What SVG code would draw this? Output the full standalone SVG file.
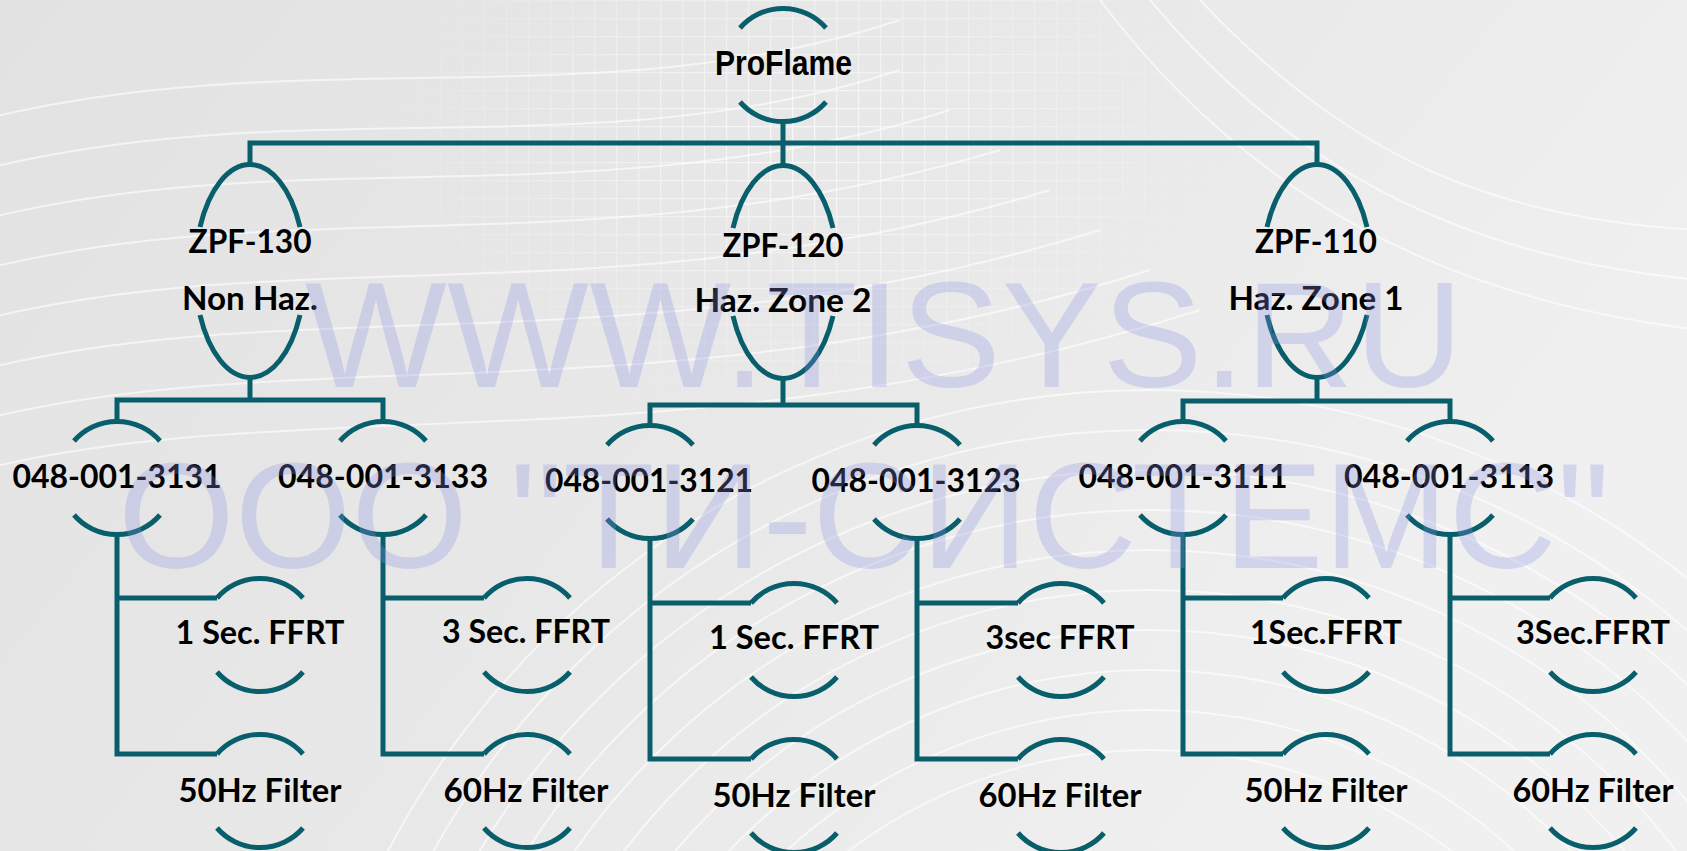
<svg xmlns="http://www.w3.org/2000/svg" width="1687" height="851" viewBox="0 0 1687 851">
<defs>
<style>
.n{fill:none;stroke:#085f6b;stroke-width:5}
.c{fill:none;stroke:#085f6b;stroke-width:5;stroke-linejoin:miter;stroke-linecap:butt}
.t{font-family:Lato,'Open Sans','Liberation Sans',sans-serif;font-weight:700;font-size:32px;fill:#000;text-anchor:middle}
.pf{font-family:'Liberation Sans',Arial,sans-serif;font-weight:700;font-size:35px;fill:#000;text-anchor:middle}
.wm{font-family:'Liberation Sans',Arial,sans-serif;font-size:150px;fill:rgb(135,145,228);fill-opacity:0.28}
.w{fill:none;stroke:#fff;stroke-opacity:0.6;stroke-width:2}
</style>
<linearGradient id="bgg" x1="0" y1="0" x2="1" y2="0.4">
<stop offset="0" stop-color="#e2e2e2"/>
<stop offset="0.6" stop-color="#e9e9e9"/>
<stop offset="1" stop-color="#f0f0f0"/>
</linearGradient>
<pattern id="grid" width="22" height="18" patternUnits="userSpaceOnUse">
<path d="M0 0H22M0 0V18" fill="none" stroke="#fff" stroke-width="2.5" stroke-opacity="0.7"/>
</pattern>
<radialGradient id="fade" cx="0.5" cy="0.4" r="0.5">
<stop offset="0" stop-color="#fff" stop-opacity="1"/>
<stop offset="1" stop-color="#fff" stop-opacity="0"/>
</radialGradient>
<mask id="m1"><rect x="350" y="-100" width="900" height="600" fill="url(#fade)"/></mask>
</defs>

<g id="background">
<rect width="1687" height="851" fill="url(#bgg)"/>
<rect x="350" y="-100" width="900" height="600" fill="url(#grid)" mask="url(#m1)"/>
<g class="w">
<path d="M-20 120 C300 40 600 120 900 20"/>
<path d="M-20 170 C300 90 600 170 900 70"/>
<path d="M-20 220 C300 140 600 220 950 110"/>
<path d="M-20 270 C300 190 600 270 1000 150"/>
<path d="M-20 320 C300 240 620 320 1050 190"/>
<path d="M-20 370 C300 290 650 370 1100 230"/>
<path d="M-20 420 C300 340 680 420 1150 270"/>
<path d="M-20 470 C300 390 700 470 1200 310"/>
<path d="M1100 0 C1250 200 1450 300 1700 330"/>
<path d="M1150 0 C1300 180 1480 260 1700 280"/>
<path d="M1200 0 C1350 160 1500 220 1700 230"/>
<circle cx="1150" cy="1250" r="500"/>
<circle cx="1150" cy="1250" r="540"/>
<circle cx="1150" cy="1250" r="580"/>
<circle cx="1150" cy="1250" r="620"/>
<circle cx="1150" cy="1250" r="660"/>
<circle cx="1150" cy="1250" r="700"/>
<circle cx="1150" cy="1250" r="740"/>
<circle cx="1150" cy="1250" r="780"/>
<circle cx="1150" cy="1250" r="820"/>
<circle cx="1150" cy="1250" r="860"/>
</g>
</g>

<g id="connectors" class="c">
<path d="M783 122V165"/>
<path d="M250 165V143H1317V165"/>
<path d="M250 378V400"/>
<path d="M117 421V400H383V421"/>
<path d="M783 379V405"/>
<path d="M650 425V405H917V425"/>
<path d="M1317 378V401"/>
<path d="M1183 421V401H1450V421"/>
<path d="M117 535V754H217M117 598H217"/>
<path d="M383 535V754H484M383 598H484"/>
<path d="M650 539V759H751M650 603H751"/>
<path d="M917 539V759H1018M917 603H1018"/>
<path d="M1183 535V754H1283M1183 598H1283"/>
<path d="M1450 535V754H1550M1450 598H1550"/>
</g>

<g id="node-proflame">
<path class="n" d="M740 28A57 57 0 0 1 826 28M740 102A57 57 0 0 0 826 102"/>
<text class="pf" x="783.5" y="75" textLength="137" lengthAdjust="spacingAndGlyphs">ProFlame</text>
</g>

<g id="node-zpf130">
<path class="n" d="M200 227A55 107 0 0 1 300 227M200 315A55 107 0 0 0 300 315"/>
<text class="t" x="250" y="253" textLength="123" lengthAdjust="spacingAndGlyphs">ZPF-130</text>
<text class="t" x="250" y="310" textLength="136" lengthAdjust="spacingAndGlyphs">Non Haz.</text>
</g>
<g id="node-zpf120">
<path class="n" d="M733 228A55 107 0 0 1 833 228M733 316A55 107 0 0 0 833 316"/>
<text class="t" x="783" y="257" textLength="121" lengthAdjust="spacingAndGlyphs">ZPF-120</text>
<text class="t" x="783" y="312" textLength="177" lengthAdjust="spacingAndGlyphs">Haz. Zone 2</text>
</g>
<g id="node-zpf110">
<path class="n" d="M1267 227A55 107 0 0 1 1367 227M1267 315A55 107 0 0 0 1367 315"/>
<text class="t" x="1316" y="253" textLength="122" lengthAdjust="spacingAndGlyphs">ZPF-110</text>
<text class="t" x="1316" y="310" textLength="175" lengthAdjust="spacingAndGlyphs">Haz. Zone 1</text>
</g>

<g id="node-3131">
<path class="n" d="M74 441A57 57 0 0 1 160 441M74 515A57 57 0 0 0 160 515"/>
<text class="t" x="117" y="488" textLength="209" lengthAdjust="spacingAndGlyphs">048-001-3131</text>
</g>
<g id="node-3133">
<path class="n" d="M340 441A57 57 0 0 1 426 441M340 515A57 57 0 0 0 426 515"/>
<text class="t" x="383" y="488" textLength="210" lengthAdjust="spacingAndGlyphs">048-001-3133</text>
</g>
<g id="node-3121">
<path class="n" d="M607 445A57 57 0 0 1 693 445M607 519A57 57 0 0 0 693 519"/>
<text class="t" x="649" y="492" textLength="208" lengthAdjust="spacingAndGlyphs">048-001-3121</text>
</g>
<g id="node-3123">
<path class="n" d="M874 445A57 57 0 0 1 960 445M874 519A57 57 0 0 0 960 519"/>
<text class="t" x="916" y="492" textLength="209" lengthAdjust="spacingAndGlyphs">048-001-3123</text>
</g>
<g id="node-3111">
<path class="n" d="M1140 441A57 57 0 0 1 1226 441M1140 515A57 57 0 0 0 1226 515"/>
<text class="t" x="1183" y="488" textLength="209" lengthAdjust="spacingAndGlyphs">048-001-3111</text>
</g>
<g id="node-3113">
<path class="n" d="M1407 441A57 57 0 0 1 1493 441M1407 515A57 57 0 0 0 1493 515"/>
<text class="t" x="1449" y="488" textLength="210" lengthAdjust="spacingAndGlyphs">048-001-3113</text>
</g>

<g id="node-3131-ffrt">
<path class="n" d="M217 598A57 57 0 0 1 303 598M217 672A57 57 0 0 0 303 672"/>
<text class="t" x="260" y="644" textLength="169" lengthAdjust="spacingAndGlyphs">1 Sec. FFRT</text>
</g>
<g id="node-3131-filter">
<path class="n" d="M217 754A57 57 0 0 1 303 754M217 828A57 57 0 0 0 303 828"/>
<text class="t" x="260" y="802" textLength="163" lengthAdjust="spacingAndGlyphs">50Hz Filter</text>
</g>
<g id="node-3133-ffrt">
<path class="n" d="M484 598A57 57 0 0 1 570 598M484 672A57 57 0 0 0 570 672"/>
<text class="t" x="526" y="643" textLength="168" lengthAdjust="spacingAndGlyphs">3 Sec. FFRT</text>
</g>
<g id="node-3133-filter">
<path class="n" d="M484 754A57 57 0 0 1 570 754M484 828A57 57 0 0 0 570 828"/>
<text class="t" x="526" y="802" textLength="165" lengthAdjust="spacingAndGlyphs">60Hz Filter</text>
</g>
<g id="node-3121-ffrt">
<path class="n" d="M751 603A57 57 0 0 1 837 603M751 677A57 57 0 0 0 837 677"/>
<text class="t" x="794" y="649" textLength="170" lengthAdjust="spacingAndGlyphs">1 Sec. FFRT</text>
</g>
<g id="node-3121-filter">
<path class="n" d="M751 759A57 57 0 0 1 837 759M751 833A57 57 0 0 0 837 833"/>
<text class="t" x="794" y="807" textLength="163" lengthAdjust="spacingAndGlyphs">50Hz Filter</text>
</g>
<g id="node-3123-ffrt">
<path class="n" d="M1018 603A57 57 0 0 1 1104 603M1018 677A57 57 0 0 0 1104 677"/>
<text class="t" x="1060" y="649" textLength="149" lengthAdjust="spacingAndGlyphs">3sec FFRT</text>
</g>
<g id="node-3123-filter">
<path class="n" d="M1018 759A57 57 0 0 1 1104 759M1018 833A57 57 0 0 0 1104 833"/>
<text class="t" x="1060" y="807" textLength="163" lengthAdjust="spacingAndGlyphs">60Hz Filter</text>
</g>
<g id="node-3111-ffrt">
<path class="n" d="M1283 598A57 57 0 0 1 1369 598M1283 672A57 57 0 0 0 1369 672"/>
<text class="t" x="1326" y="644" textLength="152" lengthAdjust="spacingAndGlyphs">1Sec.FFRT</text>
</g>
<g id="node-3111-filter">
<path class="n" d="M1283 754A57 57 0 0 1 1369 754M1283 828A57 57 0 0 0 1369 828"/>
<text class="t" x="1326" y="802" textLength="163" lengthAdjust="spacingAndGlyphs">50Hz Filter</text>
</g>
<g id="node-3113-ffrt">
<path class="n" d="M1550 598A57 57 0 0 1 1636 598M1550 672A57 57 0 0 0 1636 672"/>
<text class="t" x="1593" y="644" textLength="154" lengthAdjust="spacingAndGlyphs">3Sec.FFRT</text>
</g>
<g id="node-3113-filter">
<path class="n" d="M1550 754A57 57 0 0 1 1636 754M1550 828A57 57 0 0 0 1636 828"/>
<text class="t" x="1593" y="802" textLength="161" lengthAdjust="spacingAndGlyphs">60Hz Filter</text>
</g>

<g id="watermark">
<text class="wm" x="305" y="387" textLength="1158">WWW.TISYS.RU</text>
<text class="wm" x="118" y="568">ООО "ТИ-СИСТЕМС"</text>
</g>
</svg>
